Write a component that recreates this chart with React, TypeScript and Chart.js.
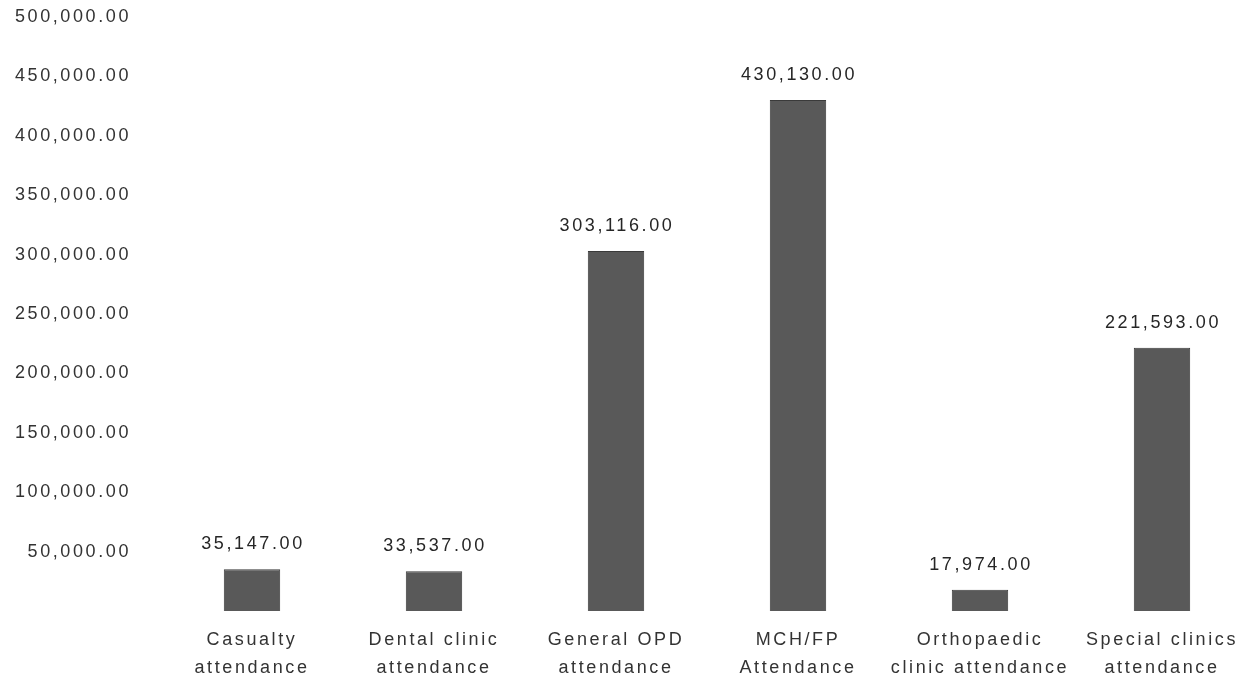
import { useEffect, useRef } from "react";
import { Chart, registerables } from "chart.js";

Chart.register(...registerables);

const categories: string[][] = [
  ["Casualty", "attendance"],
  ["Dental clinic", "attendance"],
  ["General OPD", "attendance"],
  ["MCH/FP", "Attendance"],
  ["Orthopaedic", "clinic attendance"],
  ["Special clinics", "attendance"],
];
const attendance: number[] = [35147, 33537, 303116, 430130, 17974, 221593];
const yMin = 0;
const yMax = 500000;
const yStep = 50000;

const fmt = (v: number) =>
  v.toLocaleString("en-US", { minimumFractionDigits: 2, maximumFractionDigits: 2 });

const SPACING = "2.6px";

const spacingPlugin = {
  id: "spacing",
  beforeLayout(chart: any) {
    chart.ctx.letterSpacing = SPACING;
  },
  beforeDraw(chart: any) {
    chart.ctx.letterSpacing = SPACING;
  },
};

const valueLabels = {
  id: "valueLabels",
  afterDatasetsDraw(chart: any) {
    const ctx = chart.ctx;
    const meta = chart.getDatasetMeta(0);
    ctx.save();
    ctx.letterSpacing = SPACING;
    ctx.font = '18px "Liberation Sans", Arial, sans-serif';
    ctx.fillStyle = "#262626";
    ctx.textAlign = "center";
    ctx.textBaseline = "middle";
    meta.data.forEach((bar: any, i: number) => {
      ctx.fillText(fmt(attendance[i]), bar.x + 1, bar.y - 25);
    });
    ctx.restore();
  },
};

export default function App() {
  const ref = useRef<HTMLCanvasElement>(null);
  useEffect(() => {
    document.body.style.margin = "0";
    const chart = new Chart(ref.current!, {
      type: "bar",
      data: {
        labels: categories,
        datasets: [
          {
            data: attendance,
            backgroundColor: "#595959",
            borderColor: "#3a3a3a",
            borderWidth: 1,
            barPercentage: 0.31,
            categoryPercentage: 1,
          },
        ],
      },
      options: {
        animation: false,
        responsive: false,
        maintainAspectRatio: false,
        layout: { padding: { top: 17, right: 3, left: 0, bottom: 0 } },
        plugins: { legend: { display: false }, tooltip: { enabled: false } },
        scales: {
          x: {
            grid: { display: false, drawTicks: false },
            border: { display: false },
            afterFit(scale: any) {
              scale.height = 72;
              scale.paddingLeft = 0;
              scale.paddingRight = 0;
            },
            ticks: {
              color: "#333333",
              font: { family: '"Liberation Sans", Arial, sans-serif', size: 18, lineHeight: 1.55 },
              padding: 15,
              maxRotation: 0,
              autoSkip: false,
            },
          },
          y: {
            min: yMin,
            max: yMax,
            grid: { display: false, drawTicks: false },
            border: { display: false },
            afterFit(scale: any) {
              scale.width = 161;
              scale.paddingTop = 10;
              scale.paddingBottom = 0;
            },
            ticks: {
              stepSize: yStep,
              color: "#333333",
              padding: 30,
              font: { family: '"Liberation Sans", Arial, sans-serif', size: 18 },
              callback: (v: any) => (Number(v) === 0 ? "" : fmt(Number(v))),
            },
          },
        },
      },
      plugins: [spacingPlugin, valueLabels],
    });
    return () => chart.destroy();
  }, []);
  return (
    <div style={{ position: "fixed", left: 0, top: 0, width: 1256, height: 683, background: "#fff" }}>
      <canvas ref={ref} width={1256} height={683} style={{ width: 1256, height: 683 }} />
    </div>
  );
}
